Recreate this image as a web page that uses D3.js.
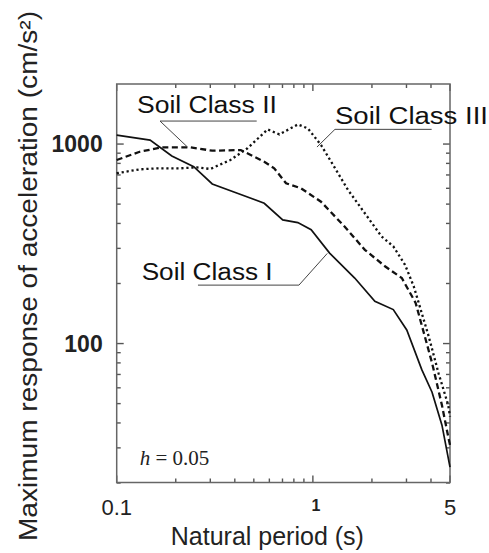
<!DOCTYPE html>
<html>
<head>
<meta charset="utf-8">
<script src="https://cdn.jsdelivr.net/npm/d3@7"></script>
<style>
  body { margin: 0; background: #fff; }
  svg { display: block; font-family: "Liberation Sans", Arial, sans-serif; }
</style>
</head>
<body>
<div id="chart"></div>
<script>
// values (period in s, acceleration in cm/s^2)
const periodI = [0.1, 0.148, 0.191, 0.247, 0.307, 0.412, 0.565, 0.702, 0.838, 0.98, 1.217, 1.634, 2.07, 2.57, 3.01, 3.59, 4.05, 4.55, 5.0];
const accelI  = [1109, 1047, 871, 770, 631, 567, 505, 417, 404, 372, 284, 213, 163, 148, 117, 74, 57, 39, 24];

const periodII = [0.1, 0.131, 0.17, 0.238, 0.307, 0.429, 0.565, 0.635, 0.73, 0.87, 1.1, 1.45, 1.84, 2.33, 2.84, 3.34, 4.05, 4.55, 4.9, 5.0];
const accelII  = [832, 915, 963, 963, 926, 933, 815, 756, 636, 600, 514, 386, 295, 244, 213, 160, 80, 49, 34, 31];

const periodIII = [0.1, 0.131, 0.16, 0.211, 0.257, 0.3, 0.38, 0.464, 0.588, 0.675, 0.838, 0.943, 1.1, 1.24, 1.51, 1.84, 2.24, 2.57, 2.95, 3.27, 3.89, 4.37, 4.9, 5.0];
const accelIII  = [714, 747, 755, 756, 764, 750, 832, 952, 1184, 1118, 1254, 1198, 989, 815, 589, 450, 344, 307, 248, 193, 109, 71, 49, 43];

const seriesNames = ["Soil Class I", "Soil Class II", "Soil Class III"];

// axis ticks
const xMajor = [0.1, 1, 5];
const xMinor = [0.2, 0.3, 0.4, 0.5, 0.6, 0.7, 0.8, 0.9, 2, 3, 4];
const yMajor = [100, 1000];
const yMinor = [20, 30, 40, 50, 60, 70, 80, 90, 200, 300, 400, 500, 600, 700, 800, 900];

// where each leader line touches its curve (period, accel)
const labelPeriod = [1.184, 0.2296, 1.049];
const labelAccel  = [283, 966, 966];

const W = 489, H = 553;
let margin = ({top: 84, right: 39, bottom: 70.5, left: 116.7});
let pLeft = margin.left, pRight = W - margin.right, pTop = margin.top, pBottom = H - margin.bottom;

let svg = d3.select('#chart').append('svg')
    .attr('width', W)
    .attr('height', H);
svg.append('rect').attr('width', W).attr('height', H).attr('fill', '#fff');

let x = d3.scaleLog().domain([0.1, 5]).range([pLeft, pRight]);
let y = d3.scaleLog().domain([20, 2000]).range([pBottom + 0.5, pTop]);

// ticks, all pointing inward, on all four sides
let ticks = svg.append('g')
    .attr('stroke', '#555')
    .attr('stroke-width', 1.4);
function yTicks(vals, len) {
    vals.forEach(function(v) {
        ticks.append('line')
            .attr('x1', pLeft).attr('x2', pLeft + len)
            .attr('y1', y(v)).attr('y2', y(v));
        ticks.append('line')
            .attr('x1', pRight).attr('x2', pRight - len)
            .attr('y1', y(v)).attr('y2', y(v));
    });
}
function xTicks(vals, len) {
    vals.forEach(function(v) {
        ticks.append('line')
            .attr('x1', x(v)).attr('x2', x(v))
            .attr('y1', pBottom).attr('y2', pBottom - len);
        ticks.append('line')
            .attr('x1', x(v)).attr('x2', x(v))
            .attr('y1', pTop).attr('y2', pTop + len);
    });
}
yTicks(yMinor, 4);
yTicks(yMajor, 7);
xTicks(xMinor, 4);
xTicks(xMajor, 7);

// frame
svg.append('rect')
    .attr('x', pLeft).attr('y', pTop)
    .attr('width', pRight - pLeft).attr('height', pBottom - pTop)
    .attr('fill', 'none')
    .attr('stroke', '#666')
    .attr('stroke-width', 1.5);

// tick labels
svg.append('g').selectAll('text')
    .data(yMajor)
    .enter().append('text')
        .attr('x', pLeft - 14)
        .attr('y', d => y(d))
        .attr('dy', '0.36em')
        .attr('text-anchor', 'end')
        .attr('font-size', 23)
        .attr('font-weight', 'bold')
        .attr('fill', '#222')
        .text(d => d);

svg.append('g').selectAll('text')
    .data(xMajor)
    .enter().append('text')
        .attr('x', d => x(d) + (d == 1 ? 3 : 0))
        .attr('y', d => d == 1 ? pBottom + 28 : pBottom + 32)
        .attr('text-anchor', 'middle')
        .attr('font-size', d => d == 1 ? 16 : 22)
        .attr('font-weight', d => d == 1 ? 'bold' : 'normal')
        .attr('fill', '#222')
        .text(d => d);

// axis titles
svg.append('text')
    .attr('x', (pLeft + pRight) / 2 - 16)
    .attr('y', 545)
    .attr('text-anchor', 'middle')
    .attr('font-size', 25)
    .attr('fill', '#222')
    .text('Natural period (s)');

svg.append('text')
    .attr('transform', 'translate(37,276) rotate(-90)')
    .attr('text-anchor', 'middle')
    .attr('font-size', 26)
    .attr('fill', '#222')
    .attr('textLength', 530)
    .attr('lengthAdjust', 'spacingAndGlyphs')
    .text('Maximum response of acceleration (cm/s²)');

// curves
let periods = [periodI, periodII, periodIII];
let accels = [accelI, accelII, accelIII];
let dashes = [null, '6,3.5', '2.2,2.8'];
let widths = [1.7, 2.3, 2.3];

let line = d3.line()
    .x(d => x(d[0]))
    .y(d => y(d[1]));

seriesNames.forEach(function(name, i) {
    let pts = periods[i].map((p, j) => [p, accels[i][j]]);
    svg.append('path')
        .datum(pts)
        .attr('fill', 'none')
        .attr('stroke', '#111')
        .attr('stroke-width', widths[i])
        .attr('stroke-dasharray', dashes[i])
        .attr('d', line);
});

// labels with leader lines: elbow offset, line length, text offset (px)
let elbow = [[-28.3, 31.7], [-27.5, -26], [18, -17.7]];
let runLen = [-101, 96.7, 96.7];
let textOff = [[-157.3, -5], [-23, -8], [0, -5]];
let textLen = [131, 140, 153];

seriesNames.forEach(function(name, i) {
    let px = x(labelPeriod[i]), py = y(labelAccel[i]);
    let ex = px + elbow[i][0], ey = py + elbow[i][1];
    svg.append('path')
        .attr('d', `M${px},${py}L${ex},${ey}L${ex + runLen[i]},${ey}`)
        .attr('fill', 'none')
        .attr('stroke', '#444')
        .attr('stroke-width', 1);
    svg.append('text')
        .attr('x', ex + textOff[i][0])
        .attr('y', ey + textOff[i][1])
        .attr('font-size', 23)
        .attr('fill', '#111')
        .attr('textLength', textLen[i])
        .attr('lengthAdjust', 'spacingAndGlyphs')
        .text(name);
});

// damping note
let note = svg.append('text')
    .attr('x', pLeft + 23)
    .attr('y', pBottom - 17.5)
    .attr('font-family', '"Liberation Serif", "Times New Roman", serif')
    .attr('font-size', 21)
    .attr('fill', '#222');
note.append('tspan').attr('font-style', 'italic').text('h');
note.append('tspan').text(' = 0.05');
</script>
</body>
</html>
